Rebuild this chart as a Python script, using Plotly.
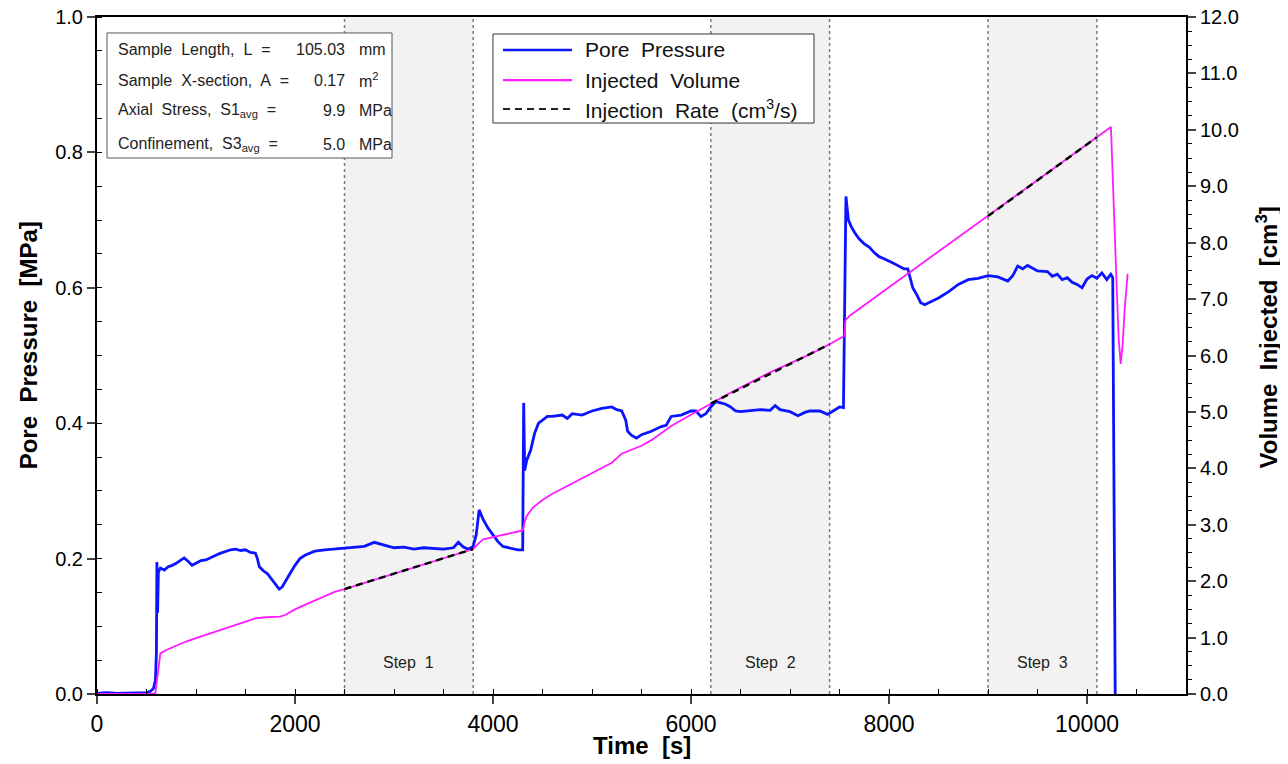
import plotly.graph_objects as go

# ---------------- data ----------------
pp_time = [0, 100, 200, 300, 400, 500, 540, 570, 590, 600, 605, 612, 620, 640, 680, 720, 760, 800, 850, 880,
           920, 960, 1000, 1050, 1100, 1150, 1200, 1250, 1300, 1350, 1400, 1450, 1500, 1550, 1600, 1620, 1640,
           1680, 1720, 1760, 1800, 1840, 1870, 1900, 1950, 2000, 2050, 2100, 2150, 2200, 2300, 2400, 2500,
           2600, 2700, 2800, 2850, 2900, 3000, 3100, 3200, 3300, 3400, 3500, 3600, 3650, 3700, 3750, 3800,
           3830, 3860, 3900, 3950, 4000, 4050, 4100, 4150, 4200, 4250, 4300, 4310, 4320, 4340, 4380, 4420,
           4460, 4500, 4550, 4600, 4700, 4750, 4800, 4900, 5000, 5100, 5200, 5250, 5300, 5340, 5360, 5400,
           5450, 5500, 5600, 5700, 5750, 5800, 5900, 6000, 6050, 6100, 6150, 6200, 6250, 6300, 6350, 6400,
           6450, 6500, 6600, 6700, 6800, 6850, 6900, 7000, 7080, 7150, 7200, 7300, 7380, 7450, 7500, 7540,
           7555, 7565, 7590, 7620, 7660, 7700, 7750, 7800, 7850, 7900, 7950, 8000, 8050, 8100, 8150, 8190,
           8210, 8240, 8280, 8320, 8360, 8400, 8450, 8500, 8600, 8700, 8800, 8900, 9000, 9100, 9200, 9250,
           9300, 9350, 9400, 9500, 9600, 9650, 9700, 9750, 9800, 9850, 9900, 9950, 10000, 10050, 10100,
           10150, 10200, 10240, 10260, 10285]
pore_pressure = [0.001, 0.002, 0.001, 0.001, 0.001, 0.002, 0.004, 0.008, 0.02, 0.06, 0.195, 0.12, 0.18,
                 0.186, 0.183, 0.188, 0.19, 0.193, 0.198, 0.201, 0.196, 0.19, 0.193, 0.197, 0.198, 0.202,
                 0.205, 0.208, 0.211, 0.213, 0.214, 0.212, 0.213, 0.209, 0.208, 0.2, 0.188, 0.182, 0.178,
                 0.17, 0.162, 0.155, 0.158, 0.166, 0.178, 0.19, 0.2, 0.205, 0.208, 0.211, 0.213, 0.214,
                 0.215, 0.217, 0.218, 0.224, 0.222, 0.22, 0.216, 0.217, 0.214, 0.216, 0.215, 0.214, 0.216,
                 0.224, 0.217, 0.214, 0.218, 0.235, 0.272, 0.258, 0.245, 0.235, 0.225, 0.218, 0.216, 0.214,
                 0.213, 0.213, 0.43, 0.33, 0.345, 0.36, 0.385, 0.4, 0.405, 0.41, 0.41, 0.412, 0.407, 0.414,
                 0.412, 0.418, 0.422, 0.424, 0.42, 0.418, 0.405, 0.388, 0.382, 0.378, 0.383, 0.388, 0.395,
                 0.397, 0.41, 0.412, 0.418, 0.418, 0.41, 0.414, 0.424, 0.432, 0.43, 0.428, 0.424, 0.418,
                 0.417, 0.418, 0.42, 0.419, 0.426, 0.42, 0.417, 0.411, 0.416, 0.418, 0.418, 0.413, 0.42,
                 0.424, 0.423, 0.6, 0.735, 0.7, 0.69, 0.68, 0.672, 0.665, 0.66, 0.652, 0.646, 0.643, 0.64,
                 0.636, 0.632, 0.628, 0.628, 0.615, 0.6, 0.59, 0.578, 0.575, 0.578, 0.582, 0.585, 0.594,
                 0.605, 0.612, 0.614, 0.618, 0.616, 0.61, 0.618, 0.632, 0.628, 0.633, 0.625, 0.624, 0.617,
                 0.62, 0.612, 0.615, 0.608, 0.605, 0.6, 0.613, 0.618, 0.614, 0.622, 0.612, 0.62, 0.615, 0.0]

vol_time = [0, 550, 590, 610, 625, 640, 700, 800, 900, 1000, 1100, 1200, 1300, 1400, 1500, 1600, 1700,
            1800, 1850, 1900, 2000, 2100, 2200, 2300, 2400, 2500, 3000, 3500, 3800, 3850, 3900, 4000, 4100,
            4200, 4300, 4320, 4340, 4400, 4500, 4600, 4800, 5000, 5200, 5300, 5400, 5500, 5600, 5800, 6000,
            6200, 6400, 6600, 6800, 7000, 7200, 7400, 7500, 7550, 7560, 7600, 8000, 8500, 9000, 9500, 10000,
            10242, 10300, 10320, 10340, 10360, 10380, 10410]
volume = [0.0, 0.0, 0.02, 0.3, 0.6, 0.72, 0.78, 0.86, 0.93, 0.99, 1.05, 1.1, 1.16, 1.22, 1.28, 1.34, 1.36,
          1.36, 1.37, 1.4, 1.5, 1.58, 1.66, 1.74, 1.81, 1.86, 2.13, 2.4, 2.57, 2.66, 2.74, 2.78, 2.82, 2.85,
          2.9, 3.05, 3.15, 3.3, 3.44, 3.55, 3.73, 3.92, 4.1, 4.26, 4.33, 4.4, 4.5, 4.75, 4.95, 5.15, 5.34,
          5.52, 5.7, 5.86, 6.02, 6.2, 6.3, 6.35, 6.62, 6.7, 7.21, 7.84, 8.47, 9.11, 9.74, 10.05, 7.2, 6.3,
          5.85, 6.2, 6.8, 7.45]

step_names = ["Step\u00a0 1", "Step\u00a0 2", "Step\u00a0 3"]
step_start = [2500, 6200, 9000]
step_end = [3800, 7400, 10100]
rate_vol_start = [1.86, 5.15, 8.47]
rate_vol_end = [2.57, 6.20, 9.87]

info_labels = ["Sample\u00a0 Length,\u00a0 L\u00a0 =", "Sample\u00a0 X-section,\u00a0 A\u00a0 =",
               "Axial\u00a0 Stress,\u00a0 S1<sub>avg</sub>\u00a0 =", "Confinement,\u00a0 S3<sub>avg</sub>\u00a0 ="]
info_values = ["105.03", "0.17", "9.9", "5.0"]
info_units = ["mm", "m<sup>2</sup>", "MPa", "MPa"]

legend_names = ["Pore\u00a0 Pressure", "Injected\u00a0 Volume", "Injection\u00a0 Rate\u00a0 (cm<sup>3</sup>/s)"]

x_ticks = [0, 2000, 4000, 6000, 8000, 10000]
y1_ticks = [0.0, 0.2, 0.4, 0.6, 0.8, 1.0]
y2_ticks = list(range(0, 13))

# ---------------- style ----------------
BLUE = "#0a14ff"
PINK = "#ff1aff"
FONT = "Liberation Sans, Arial, sans-serif"

fig = go.Figure()

for i in range(len(step_names)):
    fig.add_vrect(x0=step_start[i], x1=step_end[i], fillcolor="#f2f2f2", line_width=0, layer="below")
    for xx in (step_start[i], step_end[i]):
        fig.add_shape(type="line", xref="x", yref="paper", x0=xx, x1=xx, y0=0, y1=1,
                      line=dict(color="#7a7a7a", width=1.5, dash="3px,3px"), layer="below")
    fig.add_annotation(x=(step_start[i] + step_end[i]) / 2, y=0.047, xref="x", yref="y",
                       xanchor="center", yanchor="middle",
                       text=step_names[i], showarrow=False,
                       font=dict(family=FONT, size=16, color="#222"))

fig.add_trace(go.Scatter(x=vol_time, y=volume, mode="lines", yaxis="y2",
                         line=dict(color=PINK, width=1.8), showlegend=False))
fig.add_trace(go.Scatter(x=pp_time, y=pore_pressure, mode="lines", yaxis="y",
                         line=dict(color=BLUE, width=2.8), showlegend=False))
for i in range(len(step_names)):
    fig.add_trace(go.Scatter(x=[step_start[i], step_end[i]], y=[rate_vol_start[i], rate_vol_end[i]],
                             mode="lines", yaxis="y2",
                             line=dict(color="black", width=2.4, dash="7px,5px"), showlegend=False))

# info box
fig.add_shape(type="rect", xref="paper", yref="paper", x0=0.0092, x1=0.2709, y0=0.7917, y1=0.9764,
              line=dict(color="#555", width=1), fillcolor="white")
rows_y = [0.9527, 0.9069, 0.8612, 0.8124]
for i in range(4):
    fig.add_annotation(x=0.0174, y=rows_y[i], xref="paper", yref="paper", xanchor="left", yanchor="middle",
                       text=info_labels[i], showarrow=False, font=dict(family=FONT, size=16, color="#222"))
    fig.add_annotation(x=0.2296, y=rows_y[i], xref="paper", yref="paper", xanchor="right", yanchor="middle",
                       text=info_values[i], showarrow=False, font=dict(family=FONT, size=16, color="#222"))
    fig.add_annotation(x=0.2388, y=rows_y[i], xref="paper", yref="paper", xanchor="left", yanchor="middle",
                       text=info_units[i], showarrow=False, font=dict(family=FONT, size=16, color="#222"))

# manual legend
fig.add_shape(type="rect", xref="paper", yref="paper", x0=0.3636, x1=0.6584, y0=0.8434, y1=0.9749,
              line=dict(color="#333", width=1), fillcolor="white")
leg_y = [0.9513, 0.9069, 0.8641]
leg_style = [dict(color=BLUE, width=2.6), dict(color=PINK, width=2.2),
             dict(color="#222", width=2.2, dash="7px,5px")]
for i in range(3):
    fig.add_shape(type="line", xref="paper", yref="paper", x0=0.3728, x1=0.4362, y0=leg_y[i], y1=leg_y[i],
                  line=leg_style[i])
    fig.add_annotation(x=0.4463, y=leg_y[i], xref="paper", yref="paper", xanchor="left", yanchor="middle",
                       text=legend_names[i], showarrow=False, font=dict(family=FONT, size=21, color="#111"))

# axis titles
TITLE_FONT = dict(family=FONT, size=24, color="black", weight="bold")
fig.add_annotation(x=-0.0634, y=0.515, xref="paper", yref="paper", xanchor="center", yanchor="middle",
                   text="Pore\u00a0 Pressure\u00a0 [MPa]", textangle=-90, showarrow=False, font=TITLE_FONT)
fig.add_annotation(x=1.074, y=0.526, xref="paper", yref="paper", xanchor="center", yanchor="middle",
                   text="Volume\u00a0 Injected\u00a0 [cm<sup>3</sup>]", textangle=-90, showarrow=False,
                   font=TITLE_FONT)
fig.add_annotation(x=0.5, y=-0.0754, xref="paper", yref="paper", xanchor="center", yanchor="middle",
                   text="Time\u00a0 [s]", showarrow=False, font=dict(family=FONT, size=24, color="black",
                                                                   weight="bold"))

fig.update_layout(
    width=1278, height=754,
    margin=dict(l=89, r=100, t=9, b=68, autoexpand=False),
    plot_bgcolor="white", paper_bgcolor="white",
    xaxis=dict(range=[0, 11000], tickvals=x_ticks, tickformat="d", ticks="outside", ticklen=8, tickwidth=2,
               showline=True, linewidth=2, linecolor="black", mirror=True, showgrid=False, zeroline=False,
               automargin=False, ticklabeloverflow="allow", tickfont=dict(family=FONT, size=23, color="black"),
               minor=dict(dtick=500, ticks="inside", ticklen=5, tickcolor="black", tickwidth=1)),
    yaxis=dict(range=[0, 1.0], tickvals=y1_ticks, tickformat=".1f", ticks="outside", ticklen=8, tickwidth=2,
               showline=True, linewidth=2, linecolor="black", showgrid=False, zeroline=False,
               automargin=False, ticklabeloverflow="allow", tickfont=dict(family=FONT, size=20, color="black"),
               minor=dict(dtick=0.05, ticks="inside", ticklen=5, tickcolor="black", tickwidth=1)),
    yaxis2=dict(range=[0, 12], tickvals=y2_ticks, tickformat=".1f", overlaying="y", side="right",
                ticks="outside", ticklen=8, tickwidth=2, showline=True, linewidth=2, linecolor="black",
                showgrid=False, zeroline=False, automargin=False, ticklabeloverflow="allow",
                tickfont=dict(family=FONT, size=20, color="black"),
                minor=dict(dtick=0.25, ticks="outside", ticklen=4, tickcolor="black", tickwidth=1)),
    showlegend=False,
)

fig.write_html("out.html")
